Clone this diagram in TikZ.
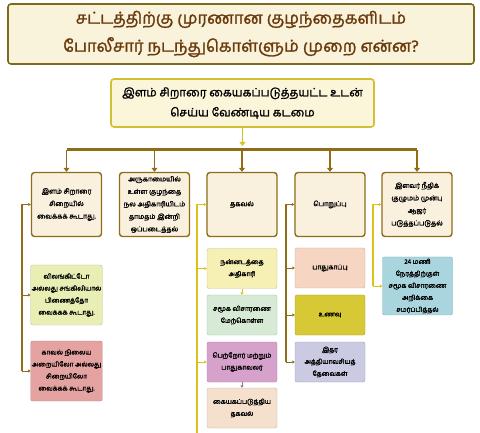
\documentclass[tikz,border=0pt]{standalone}
\usepackage{fontspec}
\usetikzlibrary{arrows.meta}
\newfontfamily\tamil[Script=Tamil,AutoFakeBold=1.6]{Hind Madurai}

\definecolor{headtxt}{HTML}{6B3A0C}
\definecolor{headline}{HTML}{7D6A1E}
\definecolor{headfill}{HTML}{FAF3DC}
\definecolor{dutyline}{HTML}{D2C032}
\definecolor{dutyfill}{HTML}{FBF6DA}
\definecolor{brownln}{HTML}{8E6C18}
\definecolor{yellowln}{HTML}{D9C21A}
\definecolor{boxfill}{HTML}{FAF0DE}
\definecolor{greenyel}{HTML}{E9EFB4}
\definecolor{rosered}{HTML}{E4A3A0}
\definecolor{paleyel}{HTML}{F7F0B4}
\definecolor{palegrn}{HTML}{D6EAD6}
\definecolor{mauve}{HTML}{D6A2CC}
\definecolor{peachA}{HTML}{F4E0CC}
\definecolor{peachB}{HTML}{F6D6C2}
\definecolor{olivey}{HTML}{D7C835}
\definecolor{lavend}{HTML}{CACBE2}
\definecolor{skyblue}{HTML}{A9D5DE}

\begin{document}
\begin{tikzpicture}[x=1pt,y=-1pt,
    font=\tamil\bfseries,
    headbox/.style={draw=headline, line width=1.6pt, fill=headfill, rounded corners=3pt,
        minimum width=466pt, minimum height=60pt, align=center, text=headtxt,
        font=\tamil\bfseries\fontsize{16.5}{28}\selectfont},
    dutybox/.style={draw=dutyline, line width=1.6pt, fill=dutyfill, rounded corners=3pt,
        minimum width=263pt, minimum height=48pt, align=center,
        font=\tamil\bfseries\fontsize{11.5}{20}\selectfont},
    topbox/.style={draw=brownln, line width=1.4pt, fill=boxfill, rounded corners=3pt,
        minimum width=70pt, minimum height=64pt, align=center, inner sep=1pt,
        font=\tamil\bfseries\fontsize{6.8}{12.5}\selectfont},
    leafbox/.style={draw=#1!80!black, line width=0.4pt, fill=#1, rounded corners=2pt,
        minimum width=70pt, minimum height=40pt, align=center, inner sep=1pt,
        font=\tamil\bfseries\fontsize{6.5}{12}\selectfont},
    brownarr/.style={draw=brownln, line width=1.6pt, -{Triangle[length=4pt,width=6pt]}},
    tickarr/.style={draw=#1, line width=0.8pt, -{Triangle[length=2.5pt,width=3pt]}},
    spine/.style={draw=#1, line width=1.6pt}]
\useasboundingbox (0,0) rectangle (480,433);

% headings
\node[headbox] (head) at (241,34) {சட்டத்திற்கு முரணான குழந்தைகளிடம்\\போலீசார் நடந்துகொள்ளும் முறை என்ன?};
\node[dutybox] (duty) at (242.5,103) {இளம் சிறாரை கையகப்படுத்தயட்ட உடன்\\செய்ய வேண்டிய கடமை};

% first row
\node[topbox] (b1) at (66.5,204.5) {இளம் சிறாரை\\சிறையில்\\வைக்கக் கூடாது.};
\node[topbox] (b2) at (154.5,204.5) {அருகாமையில்\\உள்ள குழந்தை\\நல அதிகாரியிடம்\\தாமதம் இன்றி\\ஒப்படைத்தல்};
\node[topbox] (b3) at (242,204.5) {தகவல்};
\node[topbox] (b4) at (330,204.5) {பொறுப்பு};
\node[topbox] (b5) at (417,204.5) {இளவர் நீதிக்\\குழுமம் முன்பு\\ஆஜர்\\படுத்தப்படுதல்};

% leaves
\node[leafbox=greenyel, minimum height=60pt] (g1) at (66.5,295) {விலங்கிட்டோ\\அல்லது சங்கிலியால்\\பிணைத்தோ\\வைக்கக் கூடாது.};
\node[leafbox=rosered, minimum height=60pt] (r1) at (66.5,371) {காவல் நிலைய\\அறையிலோ அல்லது\\சிறையிலோ\\வைக்கக் கூடாது.};
\node[leafbox=paleyel] (t1) at (242,268.5) {நன்னடத்தை\\அதிகாரி};
\node[leafbox=palegrn] (t2) at (242,315) {சமூக விசாரணை\\மேற்கொள்ள};
\node[leafbox=mauve] (t3) at (242,362) {பெற்றோர் மற்றும்\\பாதுகாவலர்};
\node[leafbox=peachA] (t4) at (242,408) {கையகப்படுத்திய\\தகவல்};
\node[leafbox=peachB] (p1) at (330,268) {பாதுகாப்பு};
\node[leafbox=olivey] (p2) at (330,315) {உணவு};
\node[leafbox=lavend] (p3) at (330,362) {இதர\\அத்தியாவசியத்\\தேவைகள்};
\node[leafbox=skyblue, minimum height=58pt] (q1) at (417.5,286) {24 மணி\\நேரத்திற்குள்\\சமூக விசாரணை\\அறிக்கை\\சமர்ப்பித்தல்};

% bar and drops
\coordinate (bar) at (0,150);
\coordinate (s1) at (22,0);
\coordinate (s3) at (197,0);
\coordinate (s4) at (286,0);
\coordinate (s5) at (373,0);
\coordinate (foot) at (0,433);

\draw[draw=yellowln, line width=1.4pt, -{Triangle[length=4pt,width=6pt]}] (duty.south) -- (duty.south |- 0,146);
\draw[draw=brownln, line width=3pt] (b1.north |- bar) -- (b5.north |- bar);
\foreach \b in {b1,b2,b3,b4,b5}
    \draw[brownarr] (\b.north |- bar) -- (\b.north);

% side spines
\draw[spine=brownln] (s1 |- b1.west) -- (s1 |- r1.west);
\foreach \b in {b1,g1,r1}
    \draw[tickarr=brownln] (s1 |- \b.west) -- (\b.west);

\draw[spine=yellowln] (s3 |- b3.west) -- (s3 |- foot);
\foreach \b in {b3,t1,t3}
    \draw[tickarr=yellowln] (s3 |- \b.west) -- (\b.west);
\draw[tickarr=yellowln] (t1.south) -- (t2.north);
\draw[tickarr=mauve!70!black] (t3.south) -- (t4.north);

\draw[spine=brownln] (s4 |- b4.west) -- (s4 |- p3.west);
\foreach \b in {b4,p1,p2,p3}
    \draw[tickarr=brownln] (s4 |- \b.west) -- (\b.west);

\draw[spine=yellowln] (s5 |- b5.west) -- (s5 |- q1.west);
\foreach \b in {b5,q1}
    \draw[tickarr=yellowln] (s5 |- \b.west) -- (\b.west);
\end{tikzpicture}
\end{document}
